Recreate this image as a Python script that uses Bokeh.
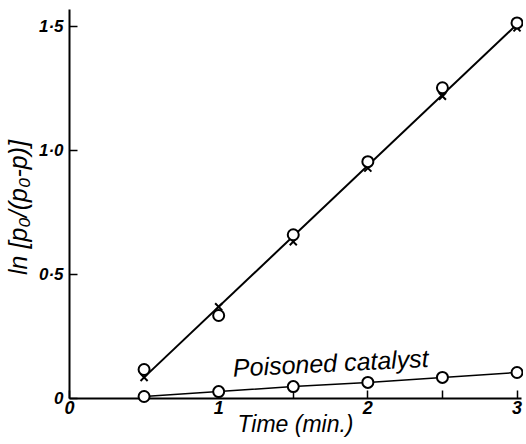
import numpy as np
from bokeh.plotting import figure
from bokeh.models import Range1d, FixedTicker, Label
from bokeh.embed import file_html
from bokeh.resources import INLINE

# ---- data ----
time_min = [0.5, 1.0, 1.5, 2.0, 2.5, 3.0]
fresh_circles = [0.117, 0.335, 0.661, 0.956, 1.254, 1.516]
fresh_crosses = [0.085, 0.370, 0.633, 0.930, 1.220, 1.496]
poisoned = [0.008, 0.028, 0.048, 0.065, 0.085, 0.105]

x_ticks = [0, 0.5, 1, 1.5, 2, 2.5, 3]
x_tick_labels = ["0", "", "1", "", "2", "", "3"]
y_ticks = [0, 0.5, 1.0, 1.5]
y_tick_labels = ["0", "0·5", "1·0", "1·5"]

x_title = "Time (min.)"
y_title = "ln  [p₀/(p₀-p)]"
poisoned_label = "Poisoned catalyst"

FONT = "Liberation Sans"

p = figure(width=523, height=442,
           x_range=Range1d(0, 3.03), y_range=Range1d(0, 1.57),
           output_backend="svg", toolbar_location=None,
           min_border_left=69, min_border_right=2, min_border_top=9,
           min_border_bottom=44)
p.outline_line_color = None
p.grid.visible = False
p.background_fill_color = "white"

for ax in (p.xaxis[0], p.yaxis[0]):
    ax.axis_line_width = 2
    ax.axis_line_color = "black"
    ax.major_tick_in = 8
    ax.major_tick_out = 0
    ax.major_tick_line_width = 1.5
    ax.minor_tick_line_color = None
    ax.major_label_text_font = FONT
    ax.major_label_text_font_style = "bold italic"
    ax.major_label_text_color = "black"
    ax.axis_label_text_font = FONT
    ax.axis_label_text_font_style = "italic"
    ax.axis_label_text_color = "black"

p.xaxis.ticker = FixedTicker(ticks=x_ticks)
p.xaxis.major_label_overrides = {t: l for t, l in zip(x_ticks, x_tick_labels)}
p.xaxis.major_label_text_font_size = "18px"
p.xaxis.major_label_standoff = 2
p.xaxis.axis_label = x_title
p.xaxis.axis_label_text_font_size = "23px"
p.xaxis.axis_label_standoff = -6

p.yaxis.ticker = FixedTicker(ticks=y_ticks)
p.yaxis.major_label_overrides = {t: l for t, l in zip(y_ticks, y_tick_labels)}
p.yaxis.major_label_text_font_size = "17px"
p.yaxis.major_label_standoff = 6
p.yaxis.axis_label = y_title
p.yaxis.axis_label_text_font_size = "25px"
p.yaxis.axis_label_standoff = 4

# fitted straight line through the fresh-catalyst points
xs_all = np.array(time_min + time_min)
ys_all = np.array(fresh_circles + fresh_crosses)
slope, intercept = np.polyfit(xs_all, ys_all, 1)
x_end = np.array([min(time_min), max(time_min)])
p.line(x_end, slope * x_end + intercept, line_color="black", line_width=2)

p.scatter(time_min, fresh_crosses, marker="x", size=10, line_color="black",
          line_width=2, level="overlay")
p.scatter(time_min, fresh_circles, marker="circle", size=11, line_color="black",
          line_width=2, fill_color="white", level="overlay")

p.line(time_min, poisoned, line_color="black", line_width=1.5)
p.scatter(time_min, poisoned, marker="circle", size=11, line_color="black",
          line_width=2, fill_color="white", level="overlay")

p.add_layout(Label(x=1.1, y=0.068, text=poisoned_label, angle=0.05,
                   text_font=FONT, text_font_style="italic",
                   text_font_size="25px", text_color="black"))

open("out.html", "w").write(file_html(p, INLINE))
